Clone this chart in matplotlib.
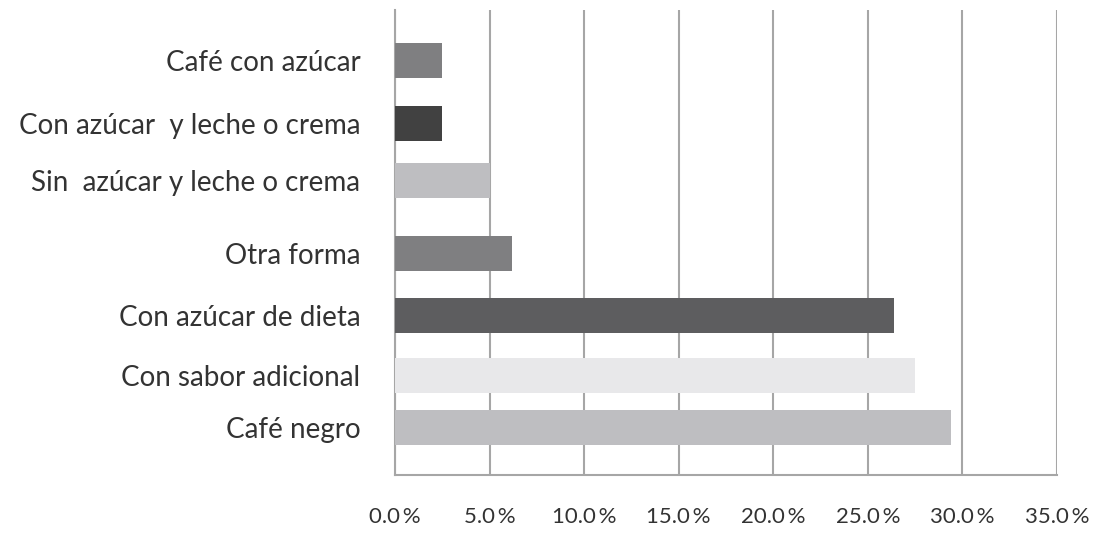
import numpy as np
import matplotlib
matplotlib.use("Agg")
import matplotlib.pyplot as plt

# data, top to bottom
categories = ["Café con azúcar", "Con azúcar  y leche o crema", "Sin  azúcar y leche o crema",
              "Otra forma", "Con azúcar de dieta", "Con sabor adicional", "Café negro"]
values = [2.5, 2.5, 5.0, 6.2, 26.4, 27.5, 29.4]
colors = ["#7f7f81", "#414141", "#bebec1", "#7f7f81", "#5d5d5f", "#e8e8ea", "#bebec1"]
xticks = [0, 5, 10, 15, 20, 25, 30, 35]

# row centres (slightly uneven spacing)
rows = [0, 1.03, 1.96, 3.15, 4.16, 5.15, 6.0]

plt.rcParams["font.family"] = ["Lato", "DejaVu Sans"]

fig = plt.figure(figsize=(11.09, 5.34), dpi=100)
ax = fig.add_axes([0.3562, 0.1105, 0.5969, 0.8705])

ax.barh(rows, values, height=0.57, color=colors, zorder=3)

ax.set_xlim(0, 35)
ax.set_ylim(6.77, -0.815)
ax.set_xticks(xticks)
ax.set_xticklabels([f"{t:.1f}\u2009%" for t in xticks], fontsize=16, color="#333333")
ax.set_yticks(rows)
ax.set_yticklabels(categories, fontsize=20, color="#333333")
ax.tick_params(axis="x", length=0, pad=23)
ax.tick_params(axis="y", length=0, pad=25)

ax.grid(axis="x", color="#a6a6a6", linewidth=1.5, zorder=0)
for side in ["top", "right"]:
    ax.spines[side].set_visible(False)
for side in ["left", "bottom"]:
    ax.spines[side].set_color("#a6a6a6")
    ax.spines[side].set_linewidth(1.5)

fig.savefig("out.png", dpi=100, facecolor="white")
